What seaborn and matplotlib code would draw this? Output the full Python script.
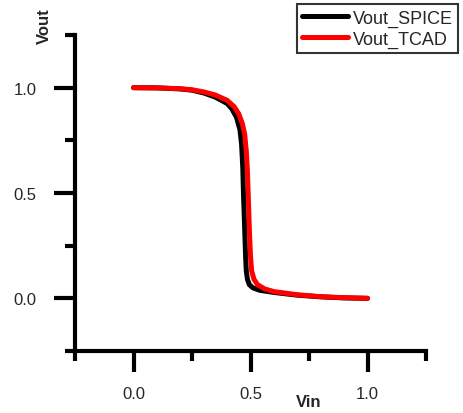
import matplotlib
matplotlib.use("Agg")
import matplotlib.pyplot as plt
import seaborn as sns
import pandas as pd
from matplotlib.ticker import FixedLocator
from matplotlib.lines import Line2D

sns.set_style("white")
plt.rcParams['font.family'] = ['Liberation Sans', 'DejaVu Sans']

# Data
vin_spice = [0.0, 0.1, 0.2, 0.25, 0.3, 0.35, 0.4, 0.42, 0.44, 0.455, 0.462, 0.467, 0.47,
             0.473, 0.476, 0.479, 0.482, 0.487, 0.495, 0.51, 0.54, 0.6, 0.7, 0.8, 0.9, 1.0]
vout_spice = [1.0, 0.999, 0.994, 0.988, 0.975, 0.955, 0.925, 0.9, 0.86, 0.8, 0.73, 0.62, 0.5,
              0.4, 0.3, 0.2, 0.13, 0.09, 0.065, 0.05, 0.038, 0.028, 0.015, 0.007, 0.002, 0.0]
vin_tcad = [0.0, 0.1, 0.2, 0.25, 0.3, 0.35, 0.4, 0.43, 0.45, 0.465, 0.475, 0.482, 0.487,
            0.49, 0.493, 0.496, 0.5, 0.505, 0.515, 0.53, 0.56, 0.6, 0.7, 0.8, 0.9, 1.0]
vout_tcad = [1.0, 0.999, 0.995, 0.99, 0.98, 0.965, 0.94, 0.91, 0.875, 0.83, 0.78, 0.7, 0.6,
             0.5, 0.4, 0.3, 0.2, 0.13, 0.09, 0.065, 0.045, 0.032, 0.017, 0.008, 0.003, 0.0]
series_names = ["Vout_SPICE", "Vout_TCAD"]
series_colors = ["#000000", "#ff0000"]
x_major = [0.0, 0.5, 1.0]
x_minor = [-0.25, 0.25, 0.75, 1.25]
y_major = [0.0, 0.5, 1.0]
y_minor = [-0.25, 0.25, 0.75, 1.25]

df = pd.concat([
    pd.DataFrame({"Vin": vin_spice, "Vout": vout_spice, "series": series_names[0]}),
    pd.DataFrame({"Vin": vin_tcad, "Vout": vout_tcad, "series": series_names[1]}),
], ignore_index=True)

fig = plt.figure(figsize=(4.63, 4.14), dpi=100)
ax = fig.add_axes([75/463, 1-352/414, (426-75)/463, (352-36)/414])

sns.lineplot(data=df, x="Vin", y="Vout", hue="series", hue_order=series_names,
             palette=series_colors, linewidth=3.6, sort=False, legend=False, ax=ax,
             estimator=None)

ax.set_xlim(-0.25, 1.25)
ax.set_ylim(-0.25, 1.25)

for s in ["top", "right"]:
    ax.spines[s].set_visible(False)
for s in ["left", "bottom"]:
    ax.spines[s].set_linewidth(3)
    ax.spines[s].set_color("black")
    ax.spines[s].set_capstyle("projecting")

ax.xaxis.set_major_locator(FixedLocator(x_major))
ax.xaxis.set_minor_locator(FixedLocator(x_minor))
ax.yaxis.set_major_locator(FixedLocator(y_major))
ax.yaxis.set_minor_locator(FixedLocator(y_minor))
ax.set_xticklabels([f"{v:.1f}" for v in x_major])
ax.set_yticklabels([f"{v:.1f}" for v in y_major])
ax.tick_params(which="major", direction="out", length=15, width=3, labelsize=12,
               color="black", bottom=True, left=True)
ax.tick_params(axis="x", which="major", pad=10)
ax.tick_params(axis="y", which="major", pad=12.5)
ax.tick_params(which="minor", direction="out", length=7.5, width=3, color="black",
               bottom=True, left=True)

ax.set_xlabel("Vin", fontweight="bold", fontsize=12)
ax.xaxis.label.set_va("center")
ax.xaxis.set_label_coords((309-75)/351, (352-403)/316)
ax.set_ylabel("Vout", fontweight="bold", fontsize=12)
ax.yaxis.label.set_rotation_mode("default")
ax.yaxis.label.set_va("center")
ax.yaxis.label.set_ha("center")
ax.yaxis.set_label_coords((44-75)/351, (352-26)/316)
ax.grid(False)

handles = [Line2D([], [], color=c, linewidth=3.6) for c in series_colors]
leg = fig.legend(handles, series_names, loc="upper left",
                 bbox_to_anchor=(297/463, 1-5/414), frameon=True, fancybox=False,
                 fontsize=13, handlelength=2.5, handletextpad=0.28, labelspacing=0.23,
                 borderpad=0.3, borderaxespad=0)
leg.get_frame().set_edgecolor("black")
leg.get_frame().set_linewidth(1.5)

fig.savefig("out.png", dpi=100)
